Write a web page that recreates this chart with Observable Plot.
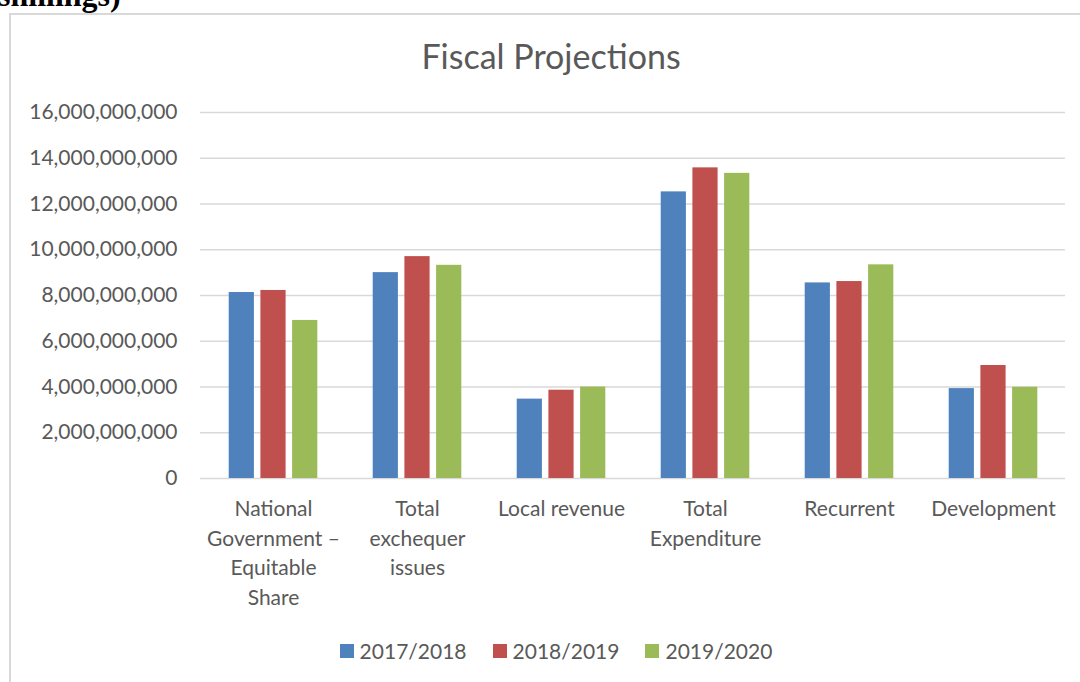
<!DOCTYPE html>
<html>
<head>
<meta charset="utf-8">
<script src="https://cdn.jsdelivr.net/npm/d3@7"></script>
<script src="https://cdn.jsdelivr.net/npm/@observablehq/plot@0.6"></script>
<style>
  html, body { margin: 0; padding: 0; background: #fff; }
  body { width: 1080px; height: 682px; position: relative; overflow: hidden; font-family: Lato, "Open Sans", sans-serif; color: #595959; }
  #cut { position: absolute; left: -2px; top: -23px; font-family: "Liberation Serif", "DejaVu Serif", serif; font-weight: bold; font-size: 32px; color: #000; white-space: nowrap; }
  #frame { position: absolute; left: 9px; top: 13px; width: 1200px; height: 800px; border-left: 2px solid #d9d9d9; border-top: 2px solid #d9d9d9; }
  #title { position: absolute; left: 10px; width: 1082px; top: 34px; text-align: center; font-size: 34px; line-height: 44px; }
  #chart { position: absolute; left: 0; top: 95px; }
  #legend { position: absolute; left: 15px; width: 1082px; top: 637px; display: flex; justify-content: center; font-size: 21px; line-height: 28px; }
  .item { display: flex; align-items: center; margin: 0 13px; }
  .sw { width: 14px; height: 14px; margin-right: 6px; }
</style>
</head>
<body>
<div id="cut">shillings)</div>
<div id="frame"></div>
<div id="title">Fiscal Projections</div>
<div id="chart"></div>
<div id="legend"></div>
<script>
const categories = ["National Government – Equitable Share", "Total exchequer issues", "Local revenue", "Total Expenditure", "Recurrent", "Development"];
const categoryLabels = ["National\nGovernment –\nEquitable\nShare", "Total\nexchequer\nissues", "Local revenue", "Total\nExpenditure", "Recurrent", "Development"];
const years = ["2017/2018", "2018/2019", "2019/2020"];
const fy2017_2018 = [8130000000, 9000000000, 3470000000, 12530000000, 8550000000, 3930000000];
const fy2018_2019 = [8220000000, 9700000000, 3860000000, 13580000000, 8610000000, 4940000000];
const fy2019_2020 = [6910000000, 9320000000, 4000000000, 13340000000, 9340000000, 3990000000];
const yTicks = [0, 2e9, 4e9, 6e9, 8e9, 10e9, 12e9, 14e9, 16e9];
const colors = ["#4F81BD", "#C0504D", "#9BBB59"];

const seriesValues = [fy2017_2018, fy2018_2019, fy2019_2020];
const rows = seriesValues.map(vals => categories.map((c, i) => ({category: c, value: vals[i]})));
const labelOf = new Map(categories.map((c, i) => [c, categoryLabels[i]]));

const step = 31.7;      // spacing between bars in a group (px)
const inset = 59.4;     // inset to narrow each bar within its band

const plot = Plot.plot({
  width: 1080,
  height: 525,
  marginLeft: 200,
  marginRight: 15,
  marginTop: 17,
  marginBottom: 142,
  style: {fontFamily: "Lato, 'Open Sans', sans-serif", fontSize: "21px", color: "#595959", background: "transparent"},
  x: {domain: categories, padding: 0},
  y: {domain: [0, 16e9]},
  marks: [
    Plot.ruleY(yTicks, {stroke: "#d9d9d9", strokeWidth: 1.5}),
    ...rows.map((data, k) => Plot.barY(data, {
      x: "category", y: "value", fill: colors[k],
      insetLeft: inset, insetRight: inset, dx: (k - 1) * step
    })),
    Plot.axisY({ticks: yTicks, tickFormat: d3.format(","), tickSize: 0, tickPadding: 23, fill: "#595959", fontSize: 21, label: null}),
    Plot.axisX({tickSize: 0, tickPadding: 17, tickFormat: d => labelOf.get(d), lineHeight: 1.4, fill: "#595959", fontSize: 21, label: null, lineAnchor: "top"})
  ]
});
document.getElementById("chart").appendChild(plot);

const legend = document.getElementById("legend");
years.forEach((y, k) => {
  const item = document.createElement("div");
  item.className = "item";
  const sw = document.createElement("div");
  sw.className = "sw";
  sw.style.background = colors[k];
  const t = document.createElement("span");
  t.textContent = y;
  item.appendChild(sw); item.appendChild(t);
  legend.appendChild(item);
});
</script>
</body>
</html>
